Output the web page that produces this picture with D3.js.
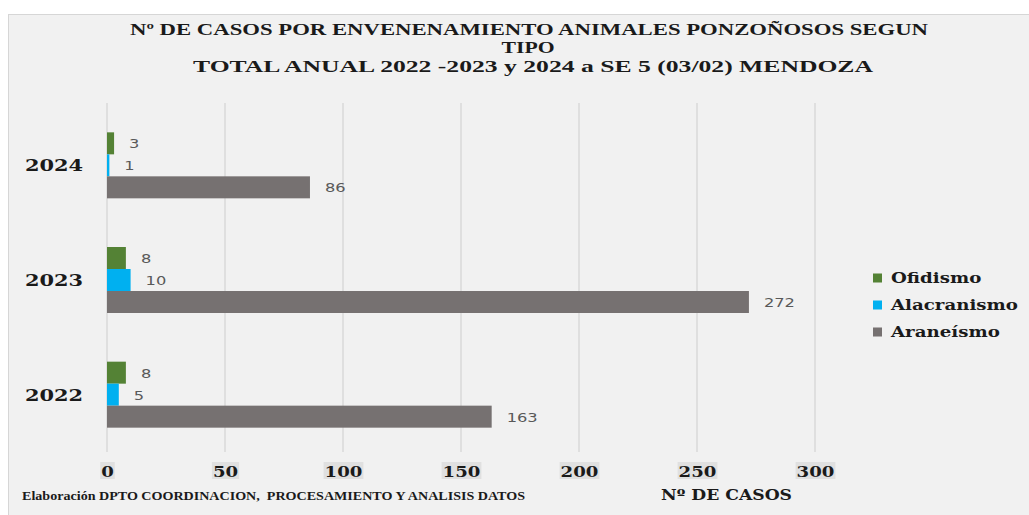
<!DOCTYPE html>
<html>
<head>
<meta charset="utf-8">
<script src="https://cdn.jsdelivr.net/npm/d3@7"></script>
<style>
  html, body { margin: 0; padding: 0; background: #ffffff; }
  svg { display: block; }
</style>
</head>
<body>
<svg id="chart" width="1029" height="515"></svg>
<script>
// Years shown top to bottom
const years = ["2024", "2023", "2022"];
// Poisoning type series
const series = ["Ofidismo", "Alacranismo", "Araneísmo"];
const ofidismo = [3, 8, 8];
const alacranismo = [1, 10, 5];
const araneismo = [86, 272, 163];
const tickValues = [0, 50, 100, 150, 200, 250, 300];
const titleLines = [
  "Nº DE CASOS POR ENVENENAMIENTO ANIMALES PONZOÑOSOS SEGUN",
  "TIPO",
  "TOTAL ANUAL 2022 -2023 y 2024 a SE 5 (03/02) MENDOZA"
];
const axisTitle = "Nº DE CASOS";
const footer = "Elaboración DPTO COORDINACION,  PROCESAMIENTO Y ANALISIS DATOS";

const colors = { "Ofidismo": "#548235", "Alacranismo": "#00b0f0", "Araneísmo": "#767171" };
const valuesBySeries = { "Ofidismo": ofidismo, "Alacranismo": alacranismo, "Araneísmo": araneismo };

const serif = "'DejaVu Serif', serif";
const titleFont = "'Liberation Serif', 'Times New Roman', serif";
const sans = "'DejaVu Sans', Verdana, sans-serif";

const svg = d3.select("#chart");

// Panel
svg.append("rect")
  .attr("x", 8.5).attr("y", 14.5)
  .attr("width", 1030).attr("height", 510)
  .attr("fill", "#f1f1f1")
  .attr("stroke", "#d6d6d6").attr("stroke-width", 1);

// Scales
const x = d3.scaleLinear().domain([0, 300]).range([107, 815]);
const y = d3.scaleBand().domain(years).range([108, 452]).padding(0);
const sub = d3.scaleBand().domain(series).range([0, y.bandwidth()])
  .paddingInner(0).paddingOuter(1.106);

// Gridlines
svg.append("g").selectAll("line").data(tickValues).join("line")
  .attr("x1", d => x(d)).attr("x2", d => x(d))
  .attr("y1", 103).attr("y2", 452)
  .attr("stroke", "#d9d9d9").attr("stroke-width", 1.5);

// Horizontally widened text helper
function wideText(sel, sx) {
  return sel.attr("transform", d => `translate(${d.tx},${d.ty}) scale(${sx},1)`);
}

// Bars
const rows = [];
years.forEach((yr, i) => {
  series.forEach(s => rows.push({ year: yr, series: s, value: valuesBySeries[s][i] }));
});

svg.append("g").selectAll("rect").data(rows).join("rect")
  .attr("x", x(0))
  .attr("y", d => y(d.year) + sub(d.series))
  .attr("width", d => x(d.value) - x(0))
  .attr("height", sub.bandwidth())
  .attr("fill", d => colors[d.series]);

// Value labels
svg.append("g").selectAll("text").data(rows.map(d => ({
    ...d,
    tx: x(d.value) + 15,
    ty: y(d.year) + sub(d.series) + sub.bandwidth() / 2 + 5
  }))).join("text")
  .call(wideText, 1.25)
  .attr("font-family", sans).attr("font-size", 13)
  .attr("fill", "#595959")
  .text(d => d.value);

// Year labels
svg.append("g").selectAll("text").data(years.map(yr => ({
    yr, tx: 54, ty: y(yr) + y.bandwidth() / 2 + 6
  }))).join("text")
  .call(wideText, 1.23)
  .attr("text-anchor", "middle")
  .attr("font-family", serif).attr("font-weight", "bold").attr("font-size", 17)
  .attr("fill", "#1a1a1a")
  .text(d => d.yr);

// X axis tick labels with shaded boxes
const axisG = svg.append("g").attr("transform", "translate(0,471)");
const axis = d3.axisBottom(x).tickValues(tickValues).tickSize(0).tickPadding(0);
axisG.call(axis);
axisG.select(".domain").remove();
axisG.selectAll(".tick text").remove();
axisG.selectAll(".tick").each(function(d) {
  const g = d3.select(this);
  const w = String(d).length * 12.6 + 2;
  g.append("rect")
    .attr("x", -w / 2).attr("y", -9)
    .attr("width", w).attr("height", 17)
    .attr("fill", "#e0e0e0");
  g.append("text")
    .attr("transform", "translate(0,6) scale(1.21,1)")
    .attr("text-anchor", "middle")
    .attr("font-family", serif).attr("font-weight", "bold").attr("font-size", 15)
    .attr("fill", "#1a1a1a")
    .text(d);
});

// Axis title
svg.append("text")
  .attr("x", 661).attr("y", 500)
  .attr("textLength", 131).attr("lengthAdjust", "spacingAndGlyphs")
  .attr("font-family", serif).attr("font-weight", "bold").attr("font-size", 14.5)
  .attr("fill", "#1a1a1a")
  .text(axisTitle);

// Footer (keeps the double space after the comma)
svg.append("text")
  .attr("x", 22).attr("y", 500)
  .style("white-space", "pre")
  .attr("textLength", 503).attr("lengthAdjust", "spacingAndGlyphs")
  .attr("font-family", titleFont).attr("font-weight", "bold").attr("font-size", 11.5)
  .attr("fill", "#1a1a1a")
  .text(footer);

// Title
const titleSpec = [
  { text: titleLines[0], cx: 529, y: 34.5, w: 798 },
  { text: titleLines[1], cx: 528, y: 53, w: 53 },
  { text: titleLines[2], cx: 533, y: 71.5, w: 680 }
];
svg.append("g").selectAll("text").data(titleSpec).join("text")
  .attr("x", d => d.cx - d.w / 2).attr("y", d => d.y)
  .attr("textLength", d => d.w).attr("lengthAdjust", "spacingAndGlyphs")
  .attr("font-family", titleFont).attr("font-weight", "bold").attr("font-size", 16.5)
  .attr("fill", "#1a1a1a")
  .text(d => d.text);

// Legend
const legend = svg.append("g").selectAll("g").data(series).join("g")
  .attr("transform", (d, i) => `translate(873,${278 + i * 27})`);
legend.append("rect")
  .attr("x", 0).attr("y", -4.5).attr("width", 9).attr("height", 9)
  .attr("fill", d => colors[d]);
legend.append("text")
  .attr("transform", "translate(18,5) scale(1.3,1)")
  .attr("font-family", serif).attr("font-weight", "bold").attr("font-size", 14)
  .attr("fill", "#1a1a1a")
  .text(d => d);
</script>
</body>
</html>
